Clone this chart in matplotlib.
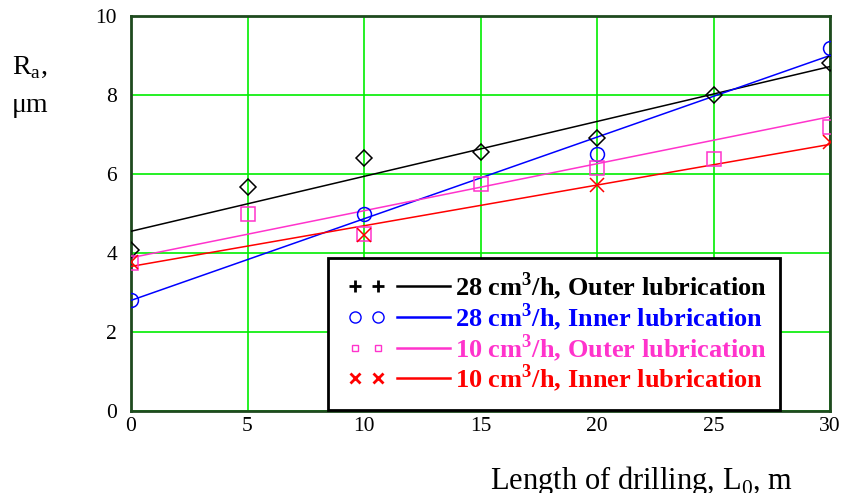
import matplotlib
matplotlib.use("Agg")
import matplotlib.pyplot as plt
from matplotlib.lines import Line2D
import numpy as np

plt.rcParams['font.family'] = ['Liberation Serif', 'DejaVu Serif']
plt.rcParams['mathtext.fontset'] = 'custom'
plt.rcParams['mathtext.rm'] = 'Liberation Serif'
plt.rcParams['mathtext.bf'] = 'Liberation Serif:bold'

# ---- data ----
x_outer28 = [0, 5, 10, 15, 20, 25, 30]
y_outer28 = [4.08, 5.67, 6.40, 6.56, 6.91, 8.00, 8.80]
x_inner28 = [0, 10, 20, 30]
y_inner28 = [2.80, 5.00, 6.50, 9.20]
x_outer10 = [0, 5, 10, 15, 20, 25, 30]
y_outer10 = [3.75, 5.00, 4.48, 5.75, 6.15, 6.38, 7.20]
x_inner10 = [0, 10, 20, 30]
y_inner10 = [3.78, 4.45, 5.72, 6.80]

fit_x = [0, 30]
fit_outer28 = [4.55, 8.72]
fit_inner28 = [2.80, 9.00]
fit_outer10 = [3.88, 7.45]
fit_inner10 = [3.66, 6.75]

labels = ["28 cm$^{\\mathbf{3}}$/h, Outer lubrication",
          "28 cm$^{\\mathbf{3}}$/h, Inner lubrication",
          "10 cm$^{\\mathbf{3}}$/h, Outer lubrication",
          "10 cm$^{\\mathbf{3}}$/h, Inner lubrication"]
colors = ["black", "#0000ff", "#ff33cc", "#ff0000"]
legend_marks = ["+", "o", "s", "x"]

xticks = [0, 5, 10, 15, 20, 25, 30]
yticks = [0, 2, 4, 6, 8, 10]

fig = plt.figure(figsize=(8.43, 4.93), dpi=100)
ax = fig.add_axes([131/843, 1-411/493, (830-131)/843, (411-16)/493])

ax.set_xlim(0, 30)
ax.set_ylim(0, 10)
ax.set_xticks(xticks)
ax.set_yticks(yticks)
ax.grid(True, color="#00ee00", lw=1.2)
ax.set_axisbelow(True)
for s in ax.spines.values():
    s.set_color("#1e4a1e")
    s.set_linewidth(2)
ax.tick_params(length=0, labelsize=15.5)
ax.tick_params(axis='x', pad=4)
ax.tick_params(axis='y', pad=10)

series = [
    (x_outer28, y_outer28, fit_outer28, "D", 8),
    (x_inner28, y_inner28, fit_inner28, "o", 10),
    (x_outer10, y_outer10, fit_outer10, "s", 10),
    (x_inner10, y_inner10, fit_inner10, "x", 10),
]
for (xs, ys, fy, m, ms), c in zip(series, colors):
    ax.plot(fit_x, fy, color=c, lw=1.1, zorder=3)
    ax.plot(xs, ys, linestyle="none", marker=m, ms=ms, mfc="none",
            mec=c, mew=1.1, zorder=4)

# legend box (manual)
leg = plt.Rectangle((328/843, 1-410/493), (780-328)/843, (410-258)/493,
                    transform=fig.transFigure, fill=True, fc="white",
                    ec="black", lw=2, zorder=5)
fig.patches.append(leg)
rows = [286, 317, 348, 378]
for py, lab, c, m in zip(rows, labels, colors, legend_marks):
    yf = 1 - py/493
    msz = {"+": 9, "o": 8, "s": 5, "x": 7}[m]
    fig.add_artist(Line2D([355/843, 378/843], [yf, yf], transform=fig.transFigure,
                          linestyle="none", marker=m, ms=msz, mfc="none", mec=c,
                          mew=2.0 if m in "+x" else 1.0, zorder=6))
    fig.add_artist(Line2D([397/843, 450/843], [yf, yf], transform=fig.transFigure,
                          color=c, lw=1.8, zorder=6))
    fig.text(455/843, yf, lab, color=c, fontsize=19, fontweight="bold",
             va="center", ha="left", zorder=7)

fig.text(12/843, 1-68/493, "R$_{\\mathrm{a}}$,", fontsize=20, va="center", ha="left")
fig.text(12/843, 1-105/493, "\u03bcm", fontsize=20, va="center", ha="left")
fig.text(490/843, 1-481/493, "Length of drilling, L$_{0}$, m", fontsize=22,
         va="center", ha="left")

fig.savefig("out.png", dpi=100)
